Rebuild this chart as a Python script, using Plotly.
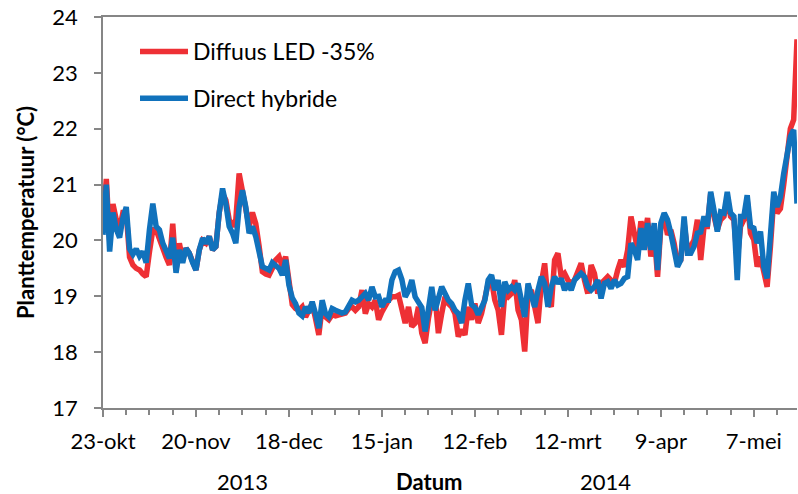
import pandas as pd
import plotly.graph_objects as go

# Daily plant temperature, 23-okt-2013 .. 20-mei-2014
start_date = "2013-10-23"

diffuus_led = [
    20.3, 21.1, 20.0, 20.65, 20.37, 20.2, 20.5, 20.5, 19.7, 19.56,
    19.5, 19.47, 19.4, 19.35, 19.8, 20.19, 20.19, 20.0, 19.89, 19.7,
    19.56, 20.3, 19.47, 19.95, 19.65, 19.86, 19.77, 19.6, 19.47, 19.83,
    20.0, 19.95, 20.07, 19.83, 19.89, 20.5, 20.84, 20.72, 20.37, 20.25,
    20.37, 21.2, 20.9, 20.6, 20.25, 20.5, 20.3, 19.9, 19.44, 19.4,
    19.38, 19.5, 19.65, 19.71, 19.53, 19.71, 19.3, 18.85, 18.78, 18.75,
    18.81, 18.63, 18.75, 18.87, 18.6, 18.31, 18.81, 18.63, 18.58, 18.67,
    18.65, 18.67, 18.69, 18.7, 18.78, 18.81, 18.75, 18.81, 19.11, 18.69,
    18.87, 18.81, 18.93, 18.58, 18.72, 18.85, 18.93, 18.99, 18.99, 19.02,
    18.81, 18.52, 18.81, 18.46, 18.52, 18.81, 18.34, 18.16, 18.6, 18.93,
    18.99, 18.34, 18.69, 18.99, 18.87, 18.81, 18.69, 18.28, 18.4, 18.31,
    18.81, 18.58, 18.87, 18.52, 18.69, 18.93, 19.23, 19.29, 18.93, 18.75,
    18.31, 19.05, 18.99, 19.05, 19.29, 18.75, 18.58, 18.01, 19.05, 19.11,
    18.75, 18.52, 19.23, 19.59, 18.93, 18.81, 19.65, 19.77, 19.35, 19.41,
    19.29, 19.23, 19.29, 19.47, 19.59, 19.29, 19.05, 19.56, 19.41, 19.05,
    19.23, 19.29, 19.35, 19.29, 19.23, 19.47, 19.65, 19.53, 19.83, 20.43,
    20.07, 19.83, 20.34, 20.07, 20.4, 19.71, 20.13, 19.35, 20.25, 20.43,
    20.1, 20.19, 19.95, 19.59, 19.65, 20.31, 19.83, 19.89, 20.01, 20.37,
    19.65, 20.25, 20.25, 20.84, 20.43, 20.19, 20.37, 20.43, 20.78, 20.43,
    20.37, 19.65, 20.25, 20.37, 20.72, 20.13, 20.01, 19.53, 19.71, 19.41,
    19.17, 19.89, 20.75, 20.49, 20.57, 21.0, 21.44, 22.0, 22.16, 23.6,
]

direct_hybride = [
    20.1, 21.0, 19.8, 20.5, 20.2, 20.05, 20.4, 20.6, 19.85, 19.75,
    19.85, 19.72, 19.8, 19.6, 20.2, 20.66, 20.25, 20.19, 19.95, 19.78,
    19.68, 20.05, 19.42, 19.83, 19.6, 19.86, 19.77, 19.6, 19.47, 19.83,
    20.04, 19.95, 20.07, 19.83, 19.89, 20.5, 20.93, 20.65, 20.25, 20.13,
    19.95, 20.6, 20.9, 20.6, 20.13, 20.25, 20.07, 19.8, 19.53, 19.5,
    19.47, 19.6, 19.55, 19.5, 19.38, 19.65, 19.2, 18.97, 18.87, 18.7,
    18.65, 18.81, 18.7, 18.9, 18.69, 18.43, 18.93, 18.69, 18.63, 18.78,
    18.75, 18.72, 18.7, 18.72, 18.85, 18.93, 18.9, 18.93, 18.99, 19.05,
    18.93, 19.17, 18.99, 19.0, 18.81, 18.93, 18.93, 19.29, 19.44, 19.47,
    19.3, 18.99, 19.1, 19.29, 18.99, 18.87, 18.8, 18.37, 18.81, 19.17,
    18.75, 18.93, 19.17, 19.05, 18.93, 18.87, 18.75, 18.69, 18.52, 18.93,
    19.23, 18.85, 18.8, 18.67, 18.8, 18.93, 19.29, 19.38, 19.11, 19.29,
    18.81, 19.26, 19.11, 19.17, 19.11, 19.23, 18.93, 18.63, 19.23, 19.05,
    18.81, 19.11, 19.35, 19.23, 18.81, 19.17, 19.35, 19.23, 19.32, 19.11,
    19.23, 19.11, 19.29, 19.35, 19.41, 19.35, 19.17, 19.11, 19.17, 19.29,
    18.96, 19.23, 19.26, 19.14, 19.29, 19.2, 19.23, 19.32, 19.35, 19.95,
    19.83, 19.65, 20.22, 19.83, 20.31, 19.83, 20.31, 19.47, 20.31, 20.49,
    20.37, 20.13, 19.83, 19.53, 19.65, 20.43, 19.77, 19.77, 19.89, 20.13,
    20.15, 20.43, 20.25, 20.87, 20.54, 20.16, 20.51, 20.49, 20.87, 20.49,
    20.43, 19.29, 20.43, 20.43, 20.81, 20.25, 20.22, 19.95, 20.16, 19.53,
    19.32, 20.19, 20.87, 20.6, 20.78, 21.2, 21.56, 21.86, 21.98, 20.66,
]

tick_dates = ["2013-10-23", "2013-11-20", "2013-12-18", "2014-01-15",
              "2014-02-12", "2014-03-12", "2014-04-09", "2014-05-07"]
tick_labels = ["23-okt", "20-nov", "18-dec", "15-jan",
               "12-feb", "12-mrt", "9-apr", "7-mei"]
y_ticks = [17, 18, 19, 20, 21, 22, 23, 24]

dates = pd.date_range(start_date, periods=len(diffuus_led), freq="D")
x_range = [start_date, "2014-05-20"]

FONT = "Lato, 'Open Sans', sans-serif"
AXIS_GREY = "#868686"

# plot area in pixels: x 103..797, y 17..408
W, H = 798, 494
L, R, T, B = 103, 1, 17, 86
PW, PH = W - L - R, H - T - B

fig = go.Figure()
fig.add_trace(go.Scatter(x=dates, y=diffuus_led, mode="lines",
                         name="Diffuus LED -35%", legendgroup="a",
                         line=dict(color="#EE3035", width=5.5)))
fig.add_trace(go.Scatter(x=dates, y=direct_hybride, mode="lines",
                         name="Direct hybride", legendgroup="b",
                         line=dict(color="#1172BC", width=5.5)))

fig.update_layout(
    width=W, height=H,
    margin=dict(l=L, r=R, t=T, b=B),
    paper_bgcolor="white", plot_bgcolor="white",
    font=dict(family=FONT, size=22, color="black"),
    showlegend=True,
    legend=dict(x=(135 - L) / PW, y=1 - (30 - T) / PH,
                xanchor="left", yanchor="top",
                bgcolor="rgba(0,0,0,0)", font=dict(size=23),
                itemwidth=48, tracegroupgap=14),
    xaxis=dict(
        type="date", range=x_range, automargin=False,
        tickvals=tick_dates, ticktext=tick_labels,
        ticks="outside", ticklen=7, tickwidth=1.5, tickcolor=AXIS_GREY,
        minor=dict(dtick=7 * 86400000, tick0=start_date, ticks="outside",
                   ticklen=5, tickwidth=1.5, tickcolor=AXIS_GREY),
        showline=True, mirror=True, linecolor=AXIS_GREY, linewidth=1.5,
        showgrid=False, zeroline=False, ticklabelstandoff=6,
        tickfont=dict(size=22),
    ),
    xaxis2=dict(
        type="date", range=x_range, overlaying="x", anchor="y", side="bottom",
        tickvals=tick_dates, showticklabels=False, automargin=False,
        ticks="inside", ticklen=9, tickwidth=1.5, tickcolor=AXIS_GREY,
        showline=False, showgrid=False, zeroline=False,
    ),
    yaxis=dict(
        range=[17, 24], tickvals=y_ticks, automargin=False,
        ticks="outside", ticklen=7, tickwidth=1.5, tickcolor=AXIS_GREY,
        showline=True, linecolor=AXIS_GREY, linewidth=1.5,
        showgrid=False, zeroline=False, ticklabelstandoff=12,
        ticklabeloverflow="allow", tickfont=dict(size=22),
        title=dict(text="<b>Planttemperatuur (°C)</b>", standoff=12,
                   font=dict(size=22)),
    ),
)

# multi-level axis labels below the dates (pixel centres converted to paper)
for text, xpx in [("2013", 215), ("<b>Datum</b>", 429), ("2014", 633)]:
    fig.add_annotation(text=text, x=(xpx - L) / PW, y=(H - B - 482) / PH,
                       xref="paper", yref="paper", yanchor="middle",
                       showarrow=False, font=dict(size=22))

# drop the default page margin so the figure fills the window exactly
fig.write_html("out.html",
               config={"displayModeBar": False},
               post_script="document.body.style.margin='0';"
                           "document.body.style.overflow='hidden';")
